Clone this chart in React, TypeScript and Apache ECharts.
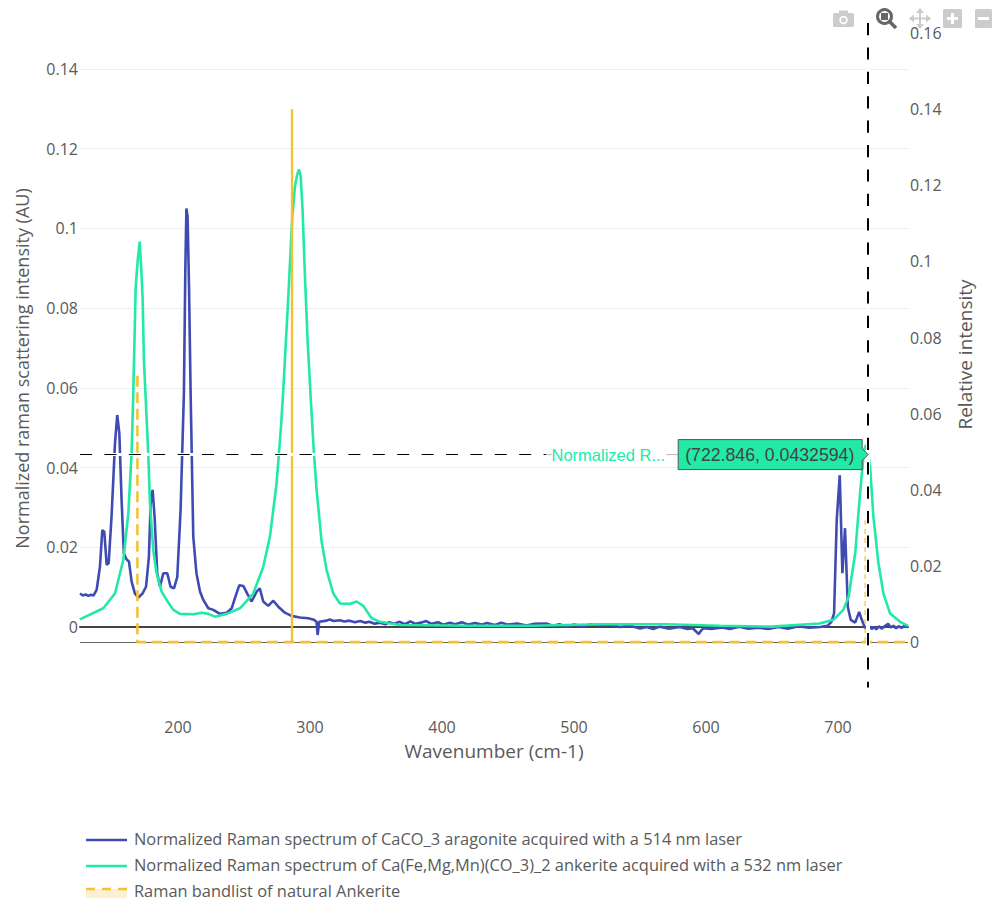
import React, { useEffect, useRef } from "react";
import * as echarts from "echarts";

const aragoniteX = [125.8,128,130,132,134,136,138.4,140.9,142.7,144.2,146,147.5,149.7,152.3,154,155.6,157.3,159,161,162.9,164.9,167.4,170,173.2,175.8,178,179.3,180.8,182.3,184.3,186.4,188.9,191.9,194.4,197,199.5,202,204.5,205.6,206.4,207.3,208.4,209.6,211.6,214,216.7,219.2,223,226.8,231.8,236.9,240.7,243.9,246.5,249.5,252.5,255.8,259.6,262,264.6,268.4,272.2,276,281,286,292.4,298.7,303,305,305.8,307,
  312.6,315,318,322.7,326,330,334,338,342,345,349,353,357,360,364,368,372,376,380,384,388,392,397,401,406,410,415,420,425,430,434,440,445,450,457,464,470,479,484,489,494,500,507,513,520,527,535,542,550,555,560,565,572,580,586,590,594.5,595.5,598,604,612,618,625,632,640,647,655,662,670,678,686.4,692,
  695,697,699,701.3,703.3,705.3,707.4,709.6,713,716,718,720.5,724,725.5,727,729,731,733,735,738,740,742,744,746,748,750,753];
const aragoniteY = [0.0084,0.0079,0.0082,0.0078,0.0081,0.0079,0.0093,0.0151,0.0243,0.0239,0.0156,0.016,0.0277,0.046,0.0532,0.0486,0.0319,0.0185,0.017,0.0164,0.0114,0.0084,0.0074,0.0084,0.0101,0.0176,0.031,0.0344,0.0277,0.0135,0.0101,0.0135,0.0135,0.0101,0.0097,0.0126,0.0294,0.0586,0.09,0.105,0.103,0.085,0.0586,0.0227,0.0135,0.0089,0.0068,0.0047,0.0043,0.0033,0.0036,0.0047,0.008,0.0105,0.0103,0.0084,0.0064,0.0089,0.0097,0.0064,0.0053,0.0066,0.0051,0.0036,0.0028,0.0024,0.0022,0.0018,0.0013,-0.002,0.0013,
  0.0016,0.0019,0.0015,0.0017,0.0014,0.0016,0.0012,0.0015,0.0011,0.0013,0.0008,0.0011,0.0007,0.0012,0.0008,0.0013,0.0007,0.0014,0.0008,0.0011,0.0015,0.0008,0.0012,0.0006,0.0011,0.0007,0.0012,0.0006,0.001,0.0006,0.001,0.0005,0.0011,0.0006,0.0009,0.0004,0.0008,0.0009,0.0003,0.0007,0.0001,0.0006,0.0002,0.0007,0.0003,0.0006,0.0,0.0004,-0.0004,0.0,-0.0005,0.0001,-0.0004,0.0,-0.0005,-0.0003,-0.0018,-0.0012,-0.0003,-0.0005,-0.0001,-0.0005,0.0001,-0.0004,-0.0002,-0.0005,0.0,-0.0004,0.0002,-0.0002,0.0,0.0003,
  0.0013,0.0034,0.0268,0.0381,0.0135,0.0248,0.0051,0.0018,0.0011,0.0038,0.0018,-0.0003,0.0001,-0.0005,0.0,-0.0006,0.0002,-0.0004,0.0001,0.0008,-0.0001,0.0003,-0.0003,0.0002,-0.0002,0.0002,0.0];

const ankeriteX = [125.8,143.4,152.3,158.6,162.4,164.9,166.1,168,169.5,171,172.2,173.3,174.2,175.5,177.5,178.8,181.3,183.8,187.6,191.4,196.5,201.5,211.6,218,223,228,236.9,247,257,264.6,269.7,274.7,278,279.8,281,283.6,286.6,288.6,290.3,291.7,293,294.4,296.2,298.2,300.5,303,305,308.8,312.6,317.7,322.7,330,335.3,340.4,346.7,353,368,418,469,520,570,610,650,686,696.5,704,708,713,716.7,719.7,721.3,722.846,724.3,726.8,730.6,734.4,739.4,747,753];
const ankeriteY = [0.0019,0.0047,0.0084,0.0168,0.0285,0.0436,0.0578,0.0854,0.092,0.0967,0.09,0.082,0.067,0.0578,0.0436,0.031,0.0193,0.0135,0.0089,0.0068,0.0043,0.0033,0.0032,0.0036,0.0033,0.0026,0.0033,0.0047,0.0084,0.0151,0.0227,0.036,0.05,0.0595,0.067,0.0829,0.1029,0.1105,0.1135,0.1148,0.113,0.1046,0.0879,0.072,0.0578,0.0436,0.0345,0.0215,0.0143,0.0084,0.0059,0.0058,0.0064,0.0053,0.0022,0.0013,0.0005,0.0003,0.0003,0.0007,0.0007,0.0003,0.0001,0.0009,0.0018,0.0043,0.0076,0.0185,0.0335,0.0445,0.0457,0.0432594,0.0402,0.0277,0.016,0.0084,0.0034,0.0013,0.0003];

const bandDashedX = [169.3,169.3,286.4,720.5,753];
const bandDashedY = [0.07,0,0,0,0];
const bandSolidX = [286.4,286.4];
const bandSolidY = [0,0.14];
const bandThinX = [720.5,720.5];
const bandThinY = [0,0.032];

const leftTicks = [0,0.02,0.04,0.06,0.08,0.1,0.12,0.14];
const rightTicks = [0,0.02,0.04,0.06,0.08,0.1,0.12,0.14,0.16];
const xTicks = [200,300,400,500,600,700];
const hoverPoint = [722.846,0.0432594];

const nameA = "Normalized Raman spectrum of CaCO_3 aragonite acquired with a 514 nm laser";
const nameB = "Normalized Raman spectrum of Ca(Fe,Mg,Mn)(CO_3)_2 ankerite acquired with a 532 nm laser";
const nameC = "Raman bandlist of natural Ankerite";
const hoverText = "(722.846, 0.0432594)";
const hoverName = "Normalized R...";

const FONT = "'Open Sans', sans-serif";
const HOVER_FONT = "'Liberation Sans', Arial, sans-serif";
const TXT = "#5a5a5a";
const BLUE = "#3F4BB3";
const GREEN = "#22E9A6";
const YELLOW = "#F4C136";
const pairs = (x: number[], y: number[]) => x.map((v, i) => [v, y[i]]);

export default function App() {
  const ref = useRef<HTMLDivElement>(null);
  useEffect(() => {
    const chart = echarts.init(ref.current!, undefined, { renderer: "svg" });
    chart.setOption({
      animation: false,
      backgroundColor: "#fff",
      grid: { left: 80, right: 88, top: 22, bottom: 214, containLabel: false, outerBoundsMode: "none" },
      xAxis: {
        type: "value", min: 125.8, max: 753,
        name: "Wavenumber (cm-1)", nameLocation: "middle", nameGap: 54,
        nameTextStyle: { fontFamily: FONT, fontSize: 19, color: TXT },
        axisLine: { show: true, onZero: true, lineStyle: { color: "#444", width: 2 } },
        axisTick: { show: false, customValues: xTicks },
        splitLine: { show: false },
        axisLabel: { customValues: xTicks, margin: 32, fontFamily: FONT, fontSize: 16, color: TXT, formatter: (v: number) => String(v) },
      },
      yAxis: [
        {
          type: "value", min: -0.01505, max: 0.1518,
          name: "Normalized raman scattering intensity (AU)", nameLocation: "middle", nameGap: 49,
          nameTextStyle: { fontFamily: FONT, fontSize: 18, color: TXT, padding: [0, 28, 0, 0] },
          axisLine: { show: false }, axisTick: { show: false, customValues: leftTicks },
          splitLine: { show: true, lineStyle: { color: "#eee", width: 1 } },
          axisLabel: { customValues: leftTicks, margin: 2, fontFamily: FONT, fontSize: 16, color: TXT, formatter: (v: number) => String(Number(v.toFixed(2))) },
        },
        {
          type: "value", min: -0.0118, max: 0.1629, position: "right",
          name: "Relative intensity", nameLocation: "middle", nameGap: 47,
          nameTextStyle: { fontFamily: FONT, fontSize: 19, color: TXT },
          axisLine: { show: false }, axisTick: { show: false, customValues: rightTicks },
          splitLine: { show: false },
          axisLabel: { customValues: rightTicks, margin: 2, fontFamily: FONT, fontSize: 16, color: TXT, formatter: (v: number) => String(Number(v.toFixed(2))) },
        },
      ],
      legend: {
        orient: "vertical", left: 82, top: 830, height: 200, itemWidth: 41, itemHeight: 14, itemGap: 10.4,
        selectedMode: false, padding: [0, 0, 0, 4], icon: "none",
        textStyle: { fontFamily: FONT, fontSize: 16.4, lineHeight: 14, color: TXT, padding: [0, 0, 0, 2] },
        data: [nameA, nameB, nameC],
      },
      series: [
        { name: nameA, type: "line", showSymbol: false, symbol: "none", data: pairs(aragoniteX, aragoniteY), lineStyle: { color: BLUE, width: 2.6 }, itemStyle: { color: BLUE }, z: 3 },
        { name: nameB, type: "line", showSymbol: false, symbol: "none", data: pairs(ankeriteX, ankeriteY), lineStyle: { color: GREEN, width: 2.6 }, itemStyle: { color: GREEN }, z: 4 },
        {
          name: nameC, type: "line", yAxisIndex: 1, showSymbol: false, symbol: "none", data: pairs(bandDashedX, bandDashedY),
          lineStyle: { color: YELLOW, width: 2.6, type: [11, 5.5] }, itemStyle: { color: YELLOW }, z: 5,
          markLine: { silent: true, symbol: "none", label: { show: false }, animation: false, lineStyle: { color: "#666", width: 1, type: "solid" }, data: [{ yAxis: 0 }], z: 2 },
        },
        { name: nameC, type: "line", yAxisIndex: 1, showSymbol: false, symbol: "none", data: pairs(bandSolidX, bandSolidY), lineStyle: { color: YELLOW, width: 2.4 }, itemStyle: { color: YELLOW }, z: 5 },
        { name: nameC, type: "line", yAxisIndex: 1, showSymbol: false, symbol: "none", data: pairs(bandThinX, bandThinY), lineStyle: { color: YELLOW, width: 1.2, type: [5, 4] }, itemStyle: { color: YELLOW }, z: 5 },
        {
          name: "spikes", type: "line", data: [], z: 6, symbol: "none",
          markLine: {
            silent: true, symbol: "none", label: { show: false }, animation: false, z: 6,
            data: [
              [{ coord: [125.8, hoverPoint[1]], lineStyle: { color: "#fff", width: 3, type: "solid" } }, { coord: hoverPoint }],
              [{ coord: [125.8, hoverPoint[1]], lineStyle: { color: "#000", width: 1, type: [12, 12.4] } }, { coord: hoverPoint }],
              [{ xAxis: hoverPoint[0], lineStyle: { color: "#fff", width: 4, type: "solid" } , y: 22}, { xAxis: hoverPoint[0], y: 687 }],
              [{ xAxis: hoverPoint[0], lineStyle: { color: "#000", width: 2, type: [12.2, 12.2] } , y: 23}, { xAxis: hoverPoint[0], y: 687.5 }],
            ],
          },
        },
      ],
    });

    const [hx, hy] = chart.convertToPixel({ xAxisIndex: 0, yAxisIndex: 0 }, hoverPoint) as number[];
    const boxL = hx - 190;
    const light = "#ccc", dark = "#666";
    chart.setOption({
      graphic: [
        // hover label
        { type: "rect", z: 50, shape: { x: boxL - 132, y: hy - 11, width: 132, height: 22 }, style: { fill: "#fff" } },
        { type: "line", z: 51, shape: { x1: boxL - 12, y1: hy, x2: boxL, y2: hy }, style: { stroke: "#bbb", lineWidth: 1 } },
        { type: "line", z: 51, shape: { x1: boxL - 132, y1: hy, x2: boxL - 126, y2: hy }, style: { stroke: "#bbb", lineWidth: 1 } },
        { type: "text", z: 51, x: boxL - 13, y: hy, style: { text: hoverName, fill: GREEN, fontFamily: HOVER_FONT, fontSize: 16.5, align: "right", verticalAlign: "middle" } },
        { type: "polygon", z: 52, shape: { points: [[hx, hy], [hx - 6, hy - 6], [hx - 6, hy - 15], [boxL, hy - 15], [boxL, hy + 15], [hx - 6, hy + 15], [hx - 6, hy + 6]] }, style: { fill: GREEN, stroke: "#555", lineWidth: 1 } },
        { type: "text", z: 53, x: boxL + 7, y: hy + 0.5, style: { text: hoverText, fill: "#444", fontFamily: HOVER_FONT, fontSize: 17.7, align: "left", verticalAlign: "middle" } },
        // legend swatches
        { type: "line", z: 41, shape: { x1: 86, y1: 840, x2: 127, y2: 840 }, style: { stroke: BLUE, lineWidth: 2.4 } },
        { type: "line", z: 41, shape: { x1: 86, y1: 866, x2: 127, y2: 866 }, style: { stroke: GREEN, lineWidth: 2.4 } },
        { type: "rect", z: 40, shape: { x: 86, y: 889, width: 41, height: 9 }, style: { fill: "#FBF0D0" } },
        { type: "line", z: 41, shape: { x1: 86, y1: 889, x2: 127, y2: 889 }, style: { stroke: YELLOW, lineWidth: 2.4, lineDash: [9, 7] } },
        // mode bar
        { type: "group", z: 60, children: [
          { type: "rect", shape: { x: 833, y: 13, width: 21, height: 14, r: 1.5 }, style: { fill: light } },
          { type: "rect", shape: { x: 839, y: 10.5, width: 9, height: 4 }, style: { fill: light } },
          { type: "circle", shape: { cx: 843.5, cy: 20, r: 4.2 }, style: { fill: "#fff", stroke: light, lineWidth: 0 } },
          { type: "circle", shape: { cx: 843.5, cy: 20, r: 2.5 }, style: { fill: light } },

          { type: "circle", shape: { cx: 884.5, cy: 16.5, r: 7 }, style: { fill: "#fff", stroke: dark, lineWidth: 3 } },
          { type: "rect", shape: { x: 881, y: 13, width: 7, height: 7 }, style: { fill: dark } },
          { type: "line", shape: { x1: 890, y1: 22, x2: 896, y2: 28 }, style: { stroke: dark, lineWidth: 3.5 } },

          { type: "line", shape: { x1: 920, y1: 9, x2: 920, y2: 28 }, style: { stroke: light, lineWidth: 2 } },
          { type: "line", shape: { x1: 910, y1: 18.5, x2: 930, y2: 18.5 }, style: { stroke: light, lineWidth: 2 } },
          { type: "polygon", shape: { points: [[920, 8], [916, 13], [924, 13]] }, style: { fill: light } },
          { type: "polygon", shape: { points: [[920, 29], [916, 24], [924, 24]] }, style: { fill: light } },
          { type: "polygon", shape: { points: [[909, 18.5], [914, 14.5], [914, 22.5]] }, style: { fill: light } },
          { type: "polygon", shape: { points: [[931, 18.5], [926, 14.5], [926, 22.5]] }, style: { fill: light } },

          { type: "rect", shape: { x: 943, y: 9, width: 19, height: 19, r: 1.5 }, style: { fill: light } },
          { type: "rect", shape: { x: 947, y: 17, width: 11, height: 3 }, style: { fill: "#fff" } },
          { type: "rect", shape: { x: 951, y: 13, width: 3, height: 11 }, style: { fill: "#fff" } },

          { type: "rect", shape: { x: 975, y: 9, width: 17, height: 19, r: 1.5 }, style: { fill: light } },
          { type: "rect", shape: { x: 978, y: 17, width: 11, height: 3 }, style: { fill: "#fff" } },
        ] },
      ],
    });
    return () => chart.dispose();
  }, []);
  return <div ref={ref} style={{ position: "fixed", left: 0, top: 0, width: 996, height: 901 }} />;
}
